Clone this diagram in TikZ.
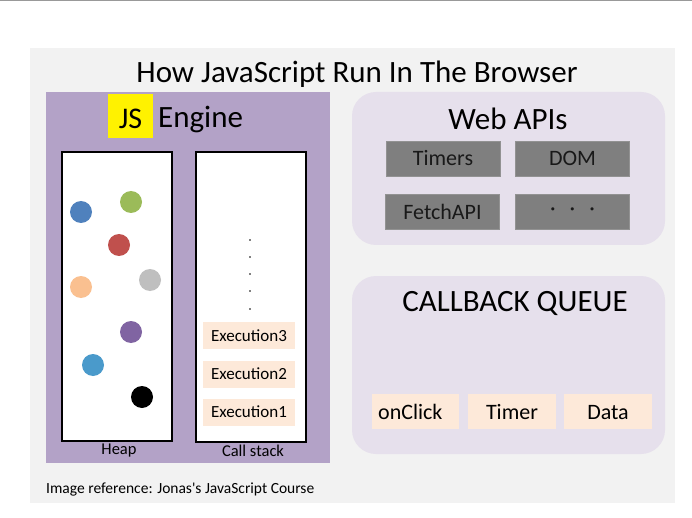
\documentclass[tikz,border=0pt]{standalone}
\usepackage{fontspec}
\setmainfont{Carlito}
\definecolor{bgray}{HTML}{F2F2F2}
\definecolor{engpurple}{HTML}{B3A2C7}
\definecolor{lav}{HTML}{E6E0EC}
\definecolor{peach}{HTML}{FDE9D9}
\definecolor{apigray}{HTML}{7F7F7F}
\definecolor{jsyellow}{HTML}{FFF200}
\definecolor{cblue}{HTML}{4F81BD}
\definecolor{cgreen}{HTML}{9BBB59}
\definecolor{cred}{HTML}{C0504D}
\definecolor{corange}{HTML}{FAC090}
\definecolor{cgray}{HTML}{BFBFBF}
\definecolor{cpurple}{HTML}{8064A2}
\definecolor{cblue2}{HTML}{4A9ACB}
\newcommand{\fs}[1]{\fontsize{#1}{#1}\selectfont}
\begin{document}
\begin{tikzpicture}[x=1pt,y=-1pt,
  stackbox/.style={rectangle, draw=black, line width=2pt, fill=white, minimum width=110, minimum height=289, inner sep=0pt},
  execbox/.style={rectangle, fill=peach, minimum width=92, minimum height=27, inner sep=0pt, font=\fs{17}},
  apibox/.style={rectangle, fill=apigray, draw=apigray!85!white, line width=0.6pt, minimum width=114, minimum height=35, inner sep=0pt, text=black!90, font=\fs{22}},
  cbbox/.style={rectangle, fill=peach, minimum height=35, inner sep=0pt},
  cbtext/.style={font=\fs{22}, inner sep=0pt},
  ball/.style={circle, fill=#1, minimum size=22, inner sep=0pt},
  panel/.style={rectangle, rounded corners=24, fill=lav, inner sep=0pt},
  header/.style={font=\fs{31}, inner sep=0pt},
  smalllabel/.style={font=\fs{16.5}, inner sep=0pt}
]
\useasboundingbox (0,0) rectangle (692,518);
\fill[white] (0,0) rectangle (692,518);
\draw[gray!80, line width=1pt] (0,0.5) -- (692,0.5);
\node[rectangle, fill=bgray, minimum width=645, minimum height=455, inner sep=0pt, anchor=north west] (bg) at (30,48) {};
\node[header] (title) at (357,74.5) {How JavaScript Run In The Browser};

% JS engine
\node[rectangle, fill=engpurple, minimum width=284, minimum height=371, inner sep=0pt] (engine) at (188,277.5) {};
\node[rectangle, fill=jsyellow, minimum width=45, minimum height=44, inner sep=0pt] (js) at (130.5,116) {};
\node[font=\fs{30}, inner sep=0pt] (jstxt) at (130.5,118.5) {JS};
\node[header, anchor=west] (enginetxt) at (158,120) {Engine};

\node[stackbox] (heap) at (117,296.5) {};
\node[stackbox] (callstack) at (251,297) {};
\node[smalllabel] (heaplbl) at (119,451) {Heap};
\node[smalllabel] (cslbl) at (253,451) {Call stack};

\node[ball=cblue] (b1) at (81,212) {};
\node[ball=cgreen] (b2) at (131,202) {};
\node[ball=cred] (b3) at (119,245) {};
\node[ball=corange] (b4) at (81,287) {};
\node[ball=cgray] (b5) at (150,280) {};
\node[ball=cpurple] (b6) at (131,332) {};
\node[ball=cblue2] (b7) at (93,365) {};
\node[ball=black] (b8) at (142,397) {};

\foreach \yy [count=\i] in {240,257,274,291,309} {
  \node[circle, fill=black, minimum size=1.6, inner sep=0pt] (dot\i) at (250,\yy) {};
}
\node[execbox] (ex3) at (249,335.5) {Execution3};
\node[execbox] (ex2) at (249,374) {Execution2};
\node[execbox] (ex1) at (249,412) {Execution1};

% Web APIs
\node[panel, minimum width=313, minimum height=153] (webapi) at (508.5,168.5) {};
\node[header] (webapitxt) at (508,119) {Web APIs};
\node[apibox] (timers) at (443,158.5) {Timers};
\node[apibox] (dom) at (572.5,158.5) {DOM};
\node[apibox] (fetch) at (442.5,211.5) {FetchAPI};
\node[apibox] (more) at (572.5,211.5) {\textperiodcentered\hspace{14pt}\textperiodcentered\hspace{14pt}\textperiodcentered};

% Callback queue
\node[panel, minimum width=313, minimum height=178] (cbq) at (508.5,365) {};
\node[header] (cbqtxt) at (515,303) {CALLBACK QUEUE};
\node[cbbox, minimum width=87] (onclick) at (415.5,411.5) {};
\node[cbbox, minimum width=88] (timer) at (512,411.5) {};
\node[cbbox, minimum width=88] (data) at (608,411.5) {};
\node[cbtext, anchor=base west] (onclicktxt) at (378,419) {onClick};
\node[cbtext, anchor=base] (timertxt) at (512,419) {Timer};
\node[cbtext, anchor=base] (datatxt) at (608,419) {Data};

\node[font=\fs{15.5}, inner sep=0pt, anchor=west] (ref) at (46,489) {Image reference: Jonas\textquotesingle s JavaScript Course};
\end{tikzpicture}
\end{document}
